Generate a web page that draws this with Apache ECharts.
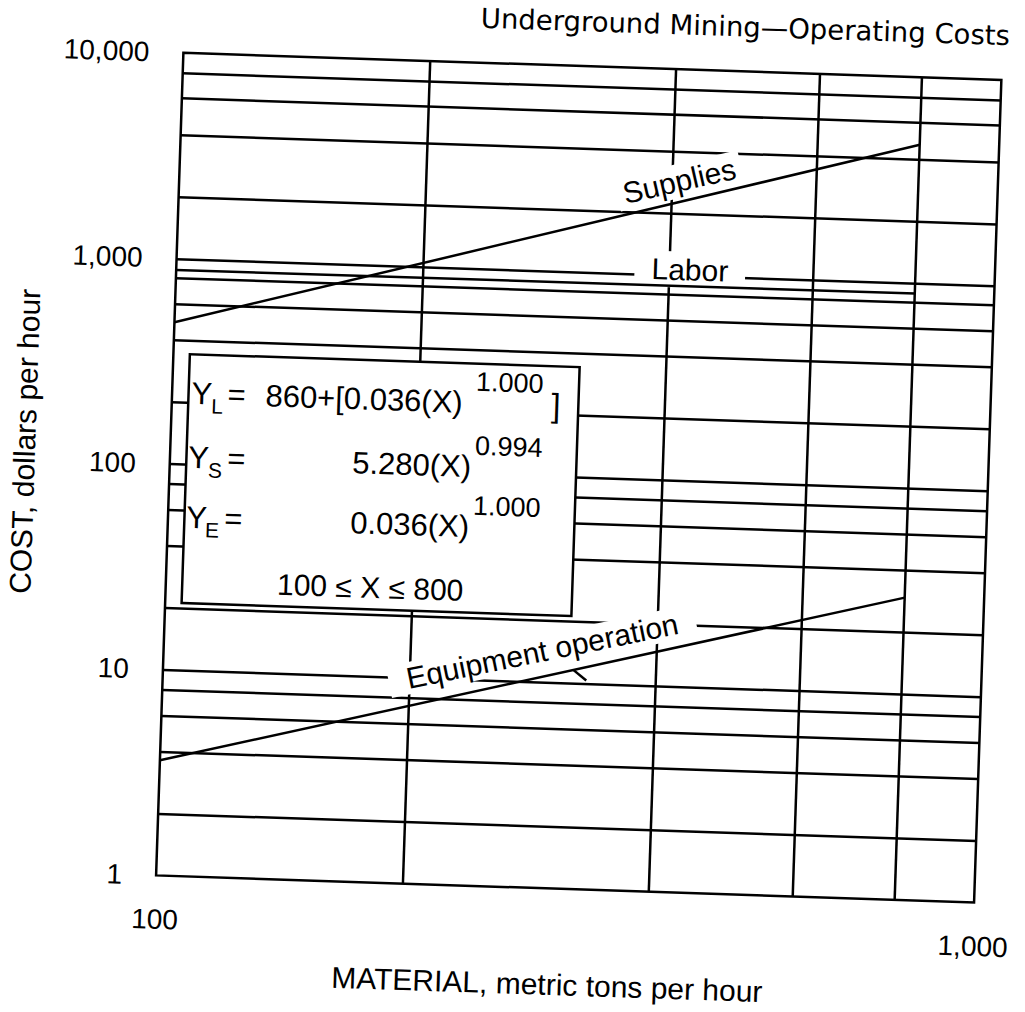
<!DOCTYPE html>
<html>
<head>
<meta charset="utf-8">
<script src="https://cdn.jsdelivr.net/npm/echarts/dist/echarts.min.js"></script>
<style>
  html, body { margin: 0; padding: 0; background: #fff; overflow: hidden; }
  /* the whole sheet sits slightly skewed on the page */
  #chart { width: 1025px; height: 1012px; transform: rotate(1.9deg); transform-origin: 512.5px 506px; }
</style>
</head>
<body>
<div id="chart"></div>
<script>
// Material moved (metric tons per hour) and cost of each item (dollars per hour)
const materialTons   = [100, 800];
const laborCost      = [880, 888];
const suppliesCost   = [490, 4700];
const equipmentCost  = [3.63, 29.5];
const seriesNames    = ['Labor', 'Supplies', 'Equipment operation'];

// Axis ends (labelled decades) and the ruled grid values in between
const xTickValues = [100, 1000];
const yTickValues = [1, 10, 100, 1000, 10000];
const xGridValues = [200, 400, 600, 800];
const yGridValues = [2, 4, 6, 8, 10, 20, 40, 60, 80, 100, 200, 400, 600, 800,
                     1000, 2000, 4000, 6000, 8000];

const FONT = 'Liberation Sans';
const TITLE_FONT = 'DejaVu Sans';
const INK = '#000';
const RULE = 2.5;

function withCommas(v) {
  return String(Math.round(v)).replace(/\B(?=(\d{3})+(?!\d))/g, ',');
}
function points(ys) {
  return materialTons.map((x, i) => [x, ys[i]]);
}
// curve name written along the curve, white box breaking the ruled grid behind it
function curveLabel(text, coord, rotate, padding) {
  return {
    z: 1.5,
    silent: true,
    symbol: 'rect',
    symbolSize: 0,
    animation: false,
    label: {
      show: true, position: 'inside', formatter: text, rotate: rotate,
      color: INK, fontFamily: FONT, fontSize: 30, lineHeight: 30,
      backgroundColor: '#fff', padding: padding
    },
    data: [{ coord: coord }]
  };
}
function curve(name, ys, labelOpt) {
  return {
    name: name, type: 'line', data: points(ys), z: 2,
    symbol: 'none', silent: true, animation: false,
    lineStyle: { color: INK, width: RULE },
    markPoint: labelOpt
  };
}
// text pieces of the equation box
function txt(text, x, y, size, align) {
  return {
    type: 'text', x: x, y: y, z: 101,
    style: { text: text, fill: INK, fontFamily: FONT, fontSize: size,
             align: align || 'left', verticalAlign: 'middle' }
  };
}

const chart = echarts.init(document.getElementById('chart'), null, { renderer: 'svg' });

chart.setOption({
  backgroundColor: '#fff',
  animation: false,
  title: {
    text: 'Underground Mining\u2014Operating Costs',
    right: 31, top: 5, padding: 0,
    textStyle: { fontFamily: TITLE_FONT, fontSize: 27.5, fontWeight: 'normal', color: INK }
  },
  grid: {
    left: 167, top: 64, width: 830, height: 823,
    show: true, borderColor: INK, borderWidth: RULE, backgroundColor: '#fff'
  },
  xAxis: {
    type: 'log', logBase: 10,
    min: xTickValues[0], max: xTickValues[xTickValues.length - 1],
    axisLine: { show: false }, axisTick: { show: false }, splitLine: { show: false },
    axisLabel: { formatter: withCommas, fontFamily: FONT, fontSize: 28, color: INK, margin: 30 },
    name: 'MATERIAL, metric tons per hour',
    nameLocation: 'middle', nameGap: 80,
    nameTextStyle: { fontFamily: FONT, fontSize: 30, lineHeight: 32, color: INK, padding: [0, 30, 0, 0] }
  },
  yAxis: {
    type: 'log', logBase: 10,
    min: yTickValues[0], max: yTickValues[yTickValues.length - 1],
    axisLine: { show: false }, axisTick: { show: false }, splitLine: { show: false },
    axisLabel: { formatter: withCommas, fontFamily: FONT, fontSize: 28, color: INK, margin: 34 },
    name: 'COST, dollars per hour',
    nameLocation: 'middle', nameRotate: 90, nameGap: 129,
    nameTextStyle: { fontFamily: FONT, fontSize: 30, color: INK, padding: [0, 0, 0, 36] }
  },
  series: [
    {
      name: 'grid rules', type: 'line', data: [], silent: true, animation: false,
      markLine: {
        z: 1, silent: true, animation: false, symbol: ['none', 'none'],
        label: { show: false },
        lineStyle: { color: INK, width: RULE, type: 'solid' },
        data: yGridValues.map(v => ({ yAxis: v })).concat(xGridValues.map(v => ({ xAxis: v })))
      }
    },
    curve(seriesNames[0], laborCost, curveLabel(seriesNames[0], [424, 1065], 0, [3, 17])),
    curve(seriesNames[1], suppliesCost, curveLabel(seriesNames[1], [408, 2870], 14.7, [2, 6])),
    curve(seriesNames[2], equipmentCost, curveLabel(seriesNames[2], [290, 14.2], 13.4, [1, 18]))
  ],
  graphic: [
    // leader tick from the equipment label to its curve
    { type: 'line', z: 3, silent: true,
      shape: { x1: 579, y1: 668, x2: 592, y2: 678 },
      style: { stroke: INK, lineWidth: RULE } },
    {
      type: 'group', z: 100, silent: true,
      children: [
        { type: 'rect', z: 100, shape: { x: 185, y: 365, width: 390, height: 249 },
          style: { fill: '#fff', stroke: INK, lineWidth: RULE } },
        txt('Y', 188, 404, 31), txt('L', 208, 416, 21), txt('=', 224, 404, 31),
        txt('860+[0.036(X)', 262, 404, 31), txt('1.000', 472, 383, 27), txt(']', 548, 404, 33),
        txt('Y', 187, 468, 31), txt('S', 207, 480, 21), txt('=', 226, 468, 31),
        txt('5.280(X)', 351, 468, 31), txt('0.994', 473, 447, 27),
        txt('Y', 187, 528, 31), txt('E', 206, 540, 21), txt('=', 225, 528, 31),
        txt('0.036(X)', 351, 528, 31), txt('1.000', 473, 507, 27),
        txt('100 \u2264 X \u2264 800', 373, 592, 30, 'center')
      ]
    }
  ]
});
</script>
</body>
</html>
